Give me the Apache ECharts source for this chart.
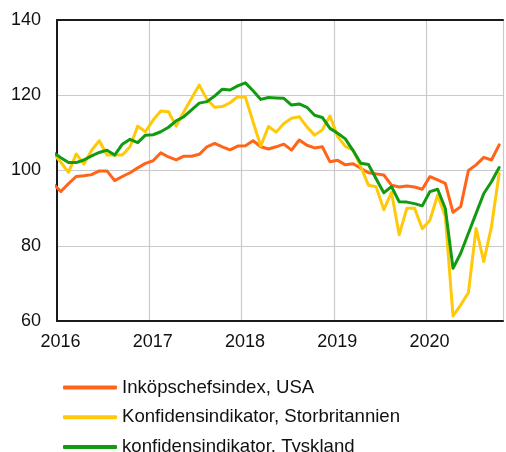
<!DOCTYPE html>
<html>
<head>
<meta charset="utf-8">
<script src="https://cdn.jsdelivr.net/npm/echarts@6/dist/echarts.min.js"></script>
<style>
  html, body { margin: 0; padding: 0; background: #fff; }
  #chart { width: 506px; height: 452px; }
</style>
</head>
<body>
<div id="chart"></div>
<script>
  // ===== 数据 (månadsvärden, dec 2015 – okt 2020) =====
  const firstYear = 2016;
  const seriesNames = ["Inköpschefsindex, USA", "Konfidensindikator, Storbritannien", "konfidensindikator, Tyskland"];
  const yTicks = [60, 80, 100, 120, 140];

  const usa = [
    96.5,
    94.4, 96.5, 98.4, 98.6, 98.9, 99.9, 99.9, 97.3, 98.4, 99.4, 100.7, 101.9,
    102.6, 104.7, 103.6, 102.8, 103.8, 103.8, 104.3, 106.3, 107.2, 106.3, 105.5, 106.5,
    106.6, 107.9, 106.3, 105.7, 106.3, 107.0, 105.4, 108.1, 106.7, 106.0, 106.3, 102.3,
    102.7, 101.5, 101.8, 100.6, 99.4, 99.1, 98.8, 96.1, 95.6, 95.9, 95.6, 95.0,
    98.4, 97.5, 96.6, 88.9, 90.4, 100.0, 101.5, 103.5, 102.8, 106.8
  ];
  const uk = [
    104.6,
    102.2, 99.5, 104.4, 101.7, 105.4, 107.9, 104.1, 104.1, 104.1, 106.3, 111.8, 110.3,
    113.4, 115.8, 115.6, 111.8, 115.6, 119.2, 122.7, 118.9, 116.8, 117.0, 118.0, 119.6,
    119.5, 112.9, 106.5, 111.7, 110.2, 112.5, 113.9, 114.3, 111.6, 109.4, 110.8, 114.5,
    109.0, 106.4, 105.5, 101.0, 96.1, 95.7, 89.6, 94.2, 82.9, 90.0, 90.0, 84.5,
    86.8, 93.5, 87.7, 61.3, 64.3, 67.5, 84.6, 75.8, 85.1, 99.2
  ];
  const de = [
    104.8,
    103.4, 102.1, 102.1, 102.8, 103.9, 104.8, 105.4, 104.1, 107.0, 108.3, 107.4, 109.4,
    109.5, 110.3, 111.5, 113.2, 114.3, 116.1, 117.9, 118.3, 119.8, 121.6, 121.4, 122.5,
    123.3, 121.2, 118.9, 119.4, 119.3, 119.2, 117.4, 117.7, 116.8, 114.7, 114.1, 111.2,
    109.9, 108.4, 105.3, 101.9, 101.6, 97.8, 94.1, 95.7, 91.7, 91.6, 91.2, 90.6,
    94.4, 95.0, 89.9, 74.0, 78.0, 83.3, 88.6, 93.9, 97.0, 100.8
  ];
  const colors = ["#ff6418", "#ffc90a", "#129b12"];

  // x = månader sedan jan 2016, punkt mitt i månaden (index 0 = dec 2015)
  const toPoints = arr => arr.map((v, i) => [i - 0.5, v]);

  const font = "'Liberation Sans', Arial, sans-serif";
  const chart = echarts.init(document.getElementById("chart"), null, { renderer: "canvas" });

  chart.setOption({
    animation: false,
    color: colors,
    grid: { left: 57, top: 20, width: 450, height: 301, containLabel: false },
    legend: {
      orient: "vertical",
      left: 63,
      top: 378,
      width: 440,
      height: 140,
      padding: 0,
      itemWidth: 54,
      itemHeight: 4,
      itemGap: 10.7,
      icon: "roundRect",
      data: seriesNames,
      textStyle: { fontSize: 18.6, color: "#111", fontFamily: font },
    },
    xAxis: [
      {
        type: "value", min: 0, max: 58, interval: 12,
        axisLine: { show: true, lineStyle: { color: "#1a1a1a", width: 2 } },
        axisTick: { show: false },
        splitLine: { show: true, lineStyle: { color: "#cacaca", width: 1.2 } },
        axisLabel: {
          fontSize: 18, color: "#111", fontFamily: font, margin: 12,
          padding: [0, 0, 0, 7],
          formatter: v => (v % 12 === 0 ? String(firstYear + v / 12) : ""),
        },
      },
      {
        type: "value", position: "top", min: 0, max: 58,
        axisLine: { show: true, onZero: false, lineStyle: { color: "#1a1a1a", width: 2 } },
        axisTick: { show: false }, axisLabel: { show: false }, splitLine: { show: false },
      },
    ],
    yAxis: {
      type: "value", min: yTicks[0], max: yTicks[yTicks.length - 1], interval: 20,
      axisLine: { show: true, lineStyle: { color: "#1a1a1a", width: 2 } },
      axisTick: { show: false },
      splitLine: { show: true, lineStyle: { color: "#cacaca", width: 1.2 } },
      axisLabel: { fontSize: 18, color: "#111", fontFamily: font, margin: 16 },
    },
    series: [usa, uk, de].map((arr, i) => ({
      name: seriesNames[i],
      type: "line",
      data: toPoints(arr),
      symbol: "none",
      clip: true,
      lineStyle: { width: 3, color: colors[i], cap: "round", join: "round" },
      itemStyle: { color: colors[i] },
    })),
  });
</script>
</body>
</html>
